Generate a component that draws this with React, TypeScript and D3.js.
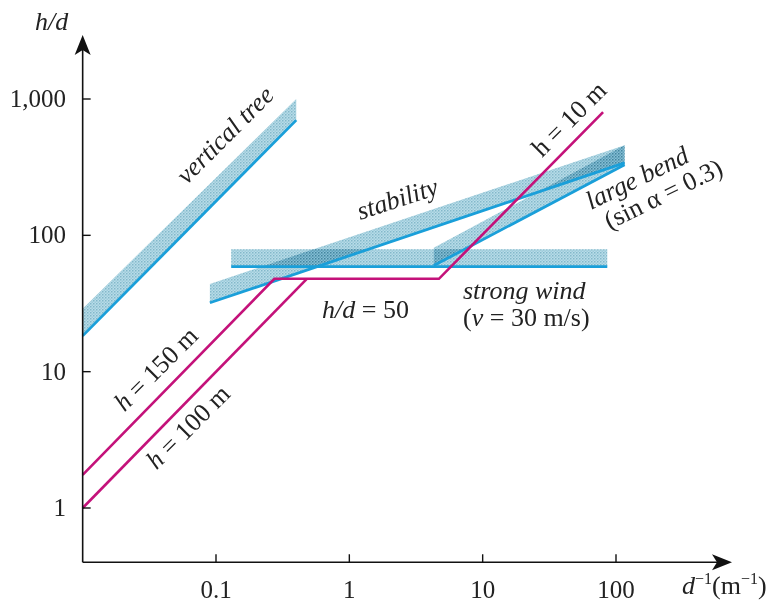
import * as d3 from 'd3';
import React from 'react';

// d^-1 (1/m) on x, h/d on y, both log
const xTicks = [0.1, 1, 10, 100];
const xTickLabels = ['0.1', '1', '10', '100'];
const yTicks = [1, 10, 100, 1000];
const yTickLabels = ['1', '10', '100', '1,000'];

// blue constraint lines, each with its shaded band above
const verticalTreeX = [0.01, 0.4];
const verticalTreeLow = [18.3, 700];
const verticalTreeHigh = [29, 1000];

const stabilityX = [0.09, 116];
const stabilityLow = [32, 340];
const stabilityHigh = [44, 458];

const largeBendX = [4.3, 116];
const largeBendLow = [60, 330];
const largeBendHigh = [81, 458];

const strongWindX = [0.13, 86];
const strongWindLow = [59, 59];
const strongWindHigh = [79, 79];

// magenta: h = 150 m -> h/d = 50 plateau -> h = 10 m, and h = 100 m
const heightPathX = [0.01, 0.274, 4.7, 80];
const heightPathY = [1.75, 48, 48, 800];
const h100X = [0.01, 0.48];
const h100Y = [1, 48];

const bands = [
  { x: verticalTreeX, lo: verticalTreeLow, hi: verticalTreeHigh },
  { x: stabilityX, lo: stabilityLow, hi: stabilityHigh },
  { x: largeBendX, lo: largeBendLow, hi: largeBendHigh },
  { x: strongWindX, lo: strongWindLow, hi: strongWindHigh },
];

const BLUE = '#1a9fd9';
const MAGENTA = '#c4127a';
const FONT = '"Liberation Serif", "DejaVu Serif", serif';
const FS = 26;

export default function App() {
  const x = d3.scaleLog().domain([0.1, 100]).range([216, 616]);
  const y = d3.scaleLog().domain([1, 1000]).range([508, 99]);

  const x0 = x(0.01);
  const y0 = y(0.4);
  const xEnd = 732;
  const yEnd = 35;

  const area = d3.area<[number, number, number]>()
    .x(d => x(d[0]))
    .y0(d => y(d[1]))
    .y1(d => y(d[2]));

  const line = d3.line<[number, number]>()
    .x(d => x(d[0]))
    .y(d => y(d[1]));

  const zip2 = (a: number[], b: number[]) => a.map((v, i) => [v, b[i]] as [number, number]);
  const zip3 = (a: number[], b: number[], c: number[]) =>
    a.map((v, i) => [v, b[i], c[i]] as [number, number, number]);

  return (
    <svg width={784} height={605} style={{ position: 'absolute', left: 0, top: 0, background: '#fff' }}
      fontFamily={FONT}>
      <defs>
        <pattern id="stipple" width="3" height="3" patternUnits="userSpaceOnUse">
          <rect width="3" height="3" fill="#b9dce8" />
          <rect width="1.5" height="1.5" fill="#82b8ca" />
          <rect x="1.5" y="1.5" width="1.5" height="1.5" fill="#9ccbdb" />
        </pattern>
      </defs>

      {/* shaded bands */}
      <g>
        {bands.map((b, i) => (
          <path key={i} d={area(zip3(b.x, b.lo, b.hi)) || ''} fill="url(#stipple)"
            style={{ mixBlendMode: 'multiply' }} />
        ))}
      </g>

      {/* blue constraint lines */}
      {bands.map((b, i) => (
        <path key={'l' + i} d={line(zip2(b.x, b.lo)) || ''} fill="none" stroke={BLUE} strokeWidth={2.8} />
      ))}

      {/* magenta height lines */}
      <path d={line(zip2(heightPathX, heightPathY)) || ''} fill="none" stroke={MAGENTA} strokeWidth={2.6}
        strokeLinejoin="miter" />
      <path d={line(zip2(h100X, h100Y)) || ''} fill="none" stroke={MAGENTA} strokeWidth={2.6} />

      {/* axes */}
      <line x1={x0} y1={y0} x2={xEnd - 10} y2={y0} stroke="#111" strokeWidth={1.6} />
      <line x1={x0} y1={y0} x2={x0} y2={yEnd + 10} stroke="#111" strokeWidth={1.6} />
      <path d={`M${xEnd},${y0} L${xEnd - 20},${y0 - 8} L${xEnd - 15},${y0} L${xEnd - 20},${y0 + 8} Z`} fill="#111" />
      <path d={`M${x0},${yEnd} L${x0 - 8},${yEnd + 20} L${x0},${yEnd + 15} L${x0 + 8},${yEnd + 20} Z`} fill="#111" />

      {xTicks.map((t, i) => (
        <g key={'xt' + i}>
          <line x1={x(t)} x2={x(t)} y1={y0} y2={y0 - 8} stroke="#111" strokeWidth={1.4} />
          <text x={x(t)} y={598} textAnchor="middle" fontSize={FS - 1} fill="#222">{xTickLabels[i]}</text>
        </g>
      ))}
      {yTicks.map((t, i) => (
        <g key={'yt' + i}>
          <line x1={x0} x2={x0 + 8} y1={y(t)} y2={y(t)} stroke="#111" strokeWidth={1.4} />
          <text x={66} y={y(t) + 8} textAnchor="end" fontSize={FS - 1} fill="#222">{yTickLabels[i]}</text>
        </g>
      ))}

      {/* axis titles */}
      <text x={35} y={30} fontSize={FS} fontStyle="italic" fill="#222">h/d</text>
      <text x={682} y={594} fontSize={FS} fill="#222">
        <tspan fontStyle="italic">d</tspan>
        <tspan fontSize={16} dy={-10}>−1</tspan>
        <tspan dy={10}>(m</tspan>
        <tspan fontSize={16} dy={-10}>−1</tspan>
        <tspan dy={10}>)</tspan>
      </text>

      {/* curve labels */}
      <text transform="translate(231,141) rotate(-45)" textAnchor="middle" fontSize={FS} fontStyle="italic"
        fill="#222">vertical tree</text>
      <text transform="translate(400,207) rotate(-18)" textAnchor="middle" fontSize={FS} fontStyle="italic"
        fill="#222">stability</text>
      <g transform="translate(591,210) rotate(-26)" fill="#222" fontSize={FS}>
        <text x={0} y={0} fontStyle="italic">large bend</text>
        <text x={8} y={26}>(sin α = 0.3)</text>
      </g>
      <text transform="translate(575,125) rotate(-45)" textAnchor="middle" fontSize={FS} fill="#222">h = 10 m</text>
      <text transform="translate(162,375) rotate(-45)" textAnchor="middle" fontSize={FS} fill="#222">
        <tspan fontStyle="italic">h</tspan> = 150 m
      </text>
      <text transform="translate(194,433) rotate(-45)" textAnchor="middle" fontSize={FS} fill="#222">
        <tspan fontStyle="italic">h</tspan> = 100 m
      </text>
      <text x={322} y={318} fontSize={FS} fill="#222">
        <tspan fontStyle="italic">h/d</tspan> = 50
      </text>
      <text x={463} y={299} fontSize={FS} fontStyle="italic" fill="#222">strong wind</text>
      <text x={463} y={326} fontSize={FS} fill="#222">
        (<tspan fontStyle="italic">v</tspan> = 30 m/s)
      </text>
    </svg>
  );
}
